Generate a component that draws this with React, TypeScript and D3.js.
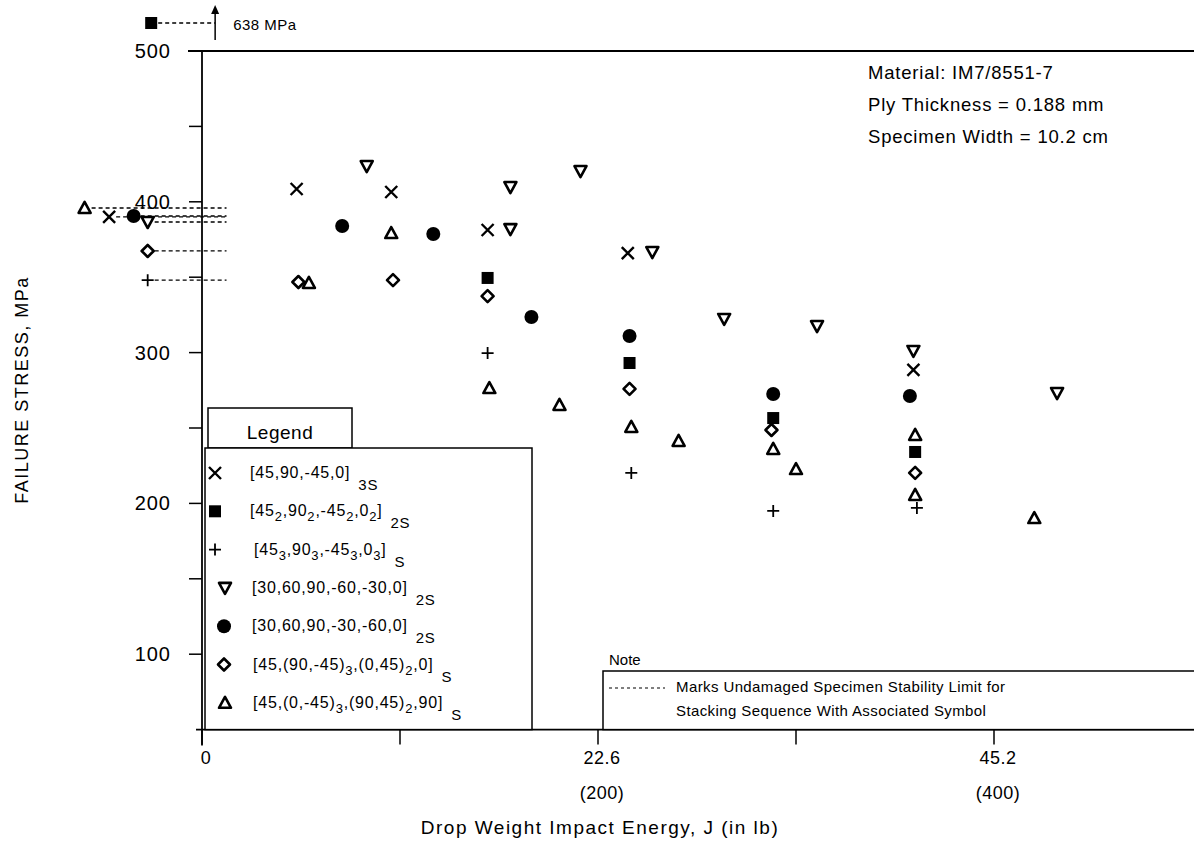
import React from "react";
import * as d3 from "d3";

// ---- data (energy in J, failure stress in MPa) ----
const crossE = [5.4, 10.8, 16.3, 24.3, 40.6];
const crossS = [408.5, 406.5, 381.3, 366, 288.5];
const squareE = [16.3, 24.4, 32.6, 40.7];
const squareS = [349.5, 293.1, 256.6, 234.1];
const plusE = [16.3, 24.5, 32.6, 40.8];
const plusS = [299.7, 220.2, 195, 197];
const triDownE = [9.4, 17.6, 17.6, 21.6, 25.7, 29.8, 35.1, 40.6, 48.8];
const triDownS = [423.7, 409.8, 381.9, 420.4, 366.7, 322.3, 317.6, 301.1, 273.2];
const circleE = [8.0, 13.2, 18.8, 24.4, 32.6, 40.4];
const circleS = [384, 378.6, 323.6, 311, 272.5, 271.2];
const diamondE = [5.5, 10.9, 16.3, 24.4, 32.5, 40.7];
const diamondS = [346.8, 348.1, 337.5, 275.9, 248.7, 220.2];
const triUpE = [6.1, 10.8, 16.4, 20.4, 24.5, 27.2, 32.6, 33.9, 40.7, 40.7, 47.5];
const triUpS = [346.2, 379.3, 276.5, 265.3, 250.7, 241.4, 236.1, 222.8, 245.4, 205.6, 190.3];

// undamaged specimen stability limits (MPa) and where the symbol sits (J, left of axis)
const limitSymbols = ["triUp", "cross", "circle", "triDown", "diamond", "plus"];
const limitStress = [395.9, 390, 390.6, 386.6, 367.4, 348];
const limitE = [-6.7, -5.3, -3.9, -3.1, -3.1, -3.1];
const squareLimitLabel = "638 MPa";

const yTickValues = [100, 200, 300, 400, 500];
const yMinorTicks = [150, 250, 350, 450];
const xTickValues = [0, 11.3, 22.6, 33.9, 45.2];
const xTickLabels: Record<string, [string, string]> = {
  "0": ["0", ""],
  "22.6": ["22.6", "(200)"],
  "45.2": ["45.2", "(400)"],
};

type Seg = [string, boolean];
const legendSymbols = ["cross", "square", "plus", "triDown", "circle", "diamond", "triUp"];
const legendLabels: { main: Seg[]; suffix: string }[] = [
  { main: [["[45,90,-45,0]", false]], suffix: "3S" },
  { main: [["[45", false], ["2", true], [",90", false], ["2", true], [",-45", false], ["2", true], [",0", false], ["2", true], ["]", false]], suffix: "2S" },
  { main: [["[45", false], ["3", true], [",90", false], ["3", true], [",-45", false], ["3", true], [",0", false], ["3", true], ["]", false]], suffix: "S" },
  { main: [["[30,60,90,-60,-30,0]", false]], suffix: "2S" },
  { main: [["[30,60,90,-30,-60,0]", false]], suffix: "2S" },
  { main: [["[45,(90,-45)", false], ["3", true], [",(0,45)", false], ["2", true], [",0]", false]], suffix: "S" },
  { main: [["[45,(0,-45)", false], ["3", true], [",(90,45)", false], ["2", true], [",90]", false]], suffix: "S" },
];

const infoLines = ["Material: IM7/8551-7", "Ply Thickness = 0.188 mm", "Specimen Width = 10.2 cm"];
const noteLines = ["Marks Undamaged Specimen Stability Limit for", "Stacking Sequence With Associated Symbol"];

const FONT = "'Liberation Sans', Arial, Helvetica, sans-serif";

function Marker({ kind, x, y }: { kind: string; x: number; y: number }) {
  const s = 6;
  switch (kind) {
    case "cross":
      return (
        <path d={`M${x - s},${y - s}L${x + s},${y + s}M${x - s},${y + s}L${x + s},${y - s}`} stroke="#000" strokeWidth={2.4} fill="none" />
      );
    case "plus":
      return (
        <path d={`M${x - 6},${y}L${x + 6},${y}M${x},${y - 6}L${x},${y + 6}`} stroke="#000" strokeWidth={1.8} fill="none" />
      );
    case "square":
      return <rect x={x - 6} y={y - 6} width={12} height={12} fill="#000" />;
    case "circle":
      return <circle cx={x} cy={y} r={7} fill="#000" />;
    case "diamond":
      return (
        <path d={`M${x},${y - 6}L${x + 6},${y}L${x},${y + 6}L${x - 6},${y}Z`} stroke="#000" strokeWidth={2.6} fill="#fff" strokeLinejoin="round" />
      );
    case "triDown":
      return (
        <path d={`M${x - 6},${y - 5}L${x + 6},${y - 5}L${x},${y + 6}Z`} stroke="#000" strokeWidth={2.6} fill="#fff" strokeLinejoin="round" />
      );
    case "triUp":
      return (
        <path d={`M${x - 6},${y + 5}L${x + 6},${y + 5}L${x},${y - 6}Z`} stroke="#000" strokeWidth={2.6} fill="#fff" strokeLinejoin="round" />
      );
    default:
      return null;
  }
}

export default function App() {
  const W = 1194;
  const H = 850;
  const x = d3.scaleLinear().domain([0, 45.2]).range([202, 994]);
  const y = d3.scaleLinear().domain([50, 500]).range([729.6, 51]);
  const axisX = x(0);
  const axisY = y(50);
  const lineEnd = x(1.4);

  const series: { kind: string; E: number[]; S: number[] }[] = [
    { kind: "cross", E: crossE, S: crossS },
    { kind: "square", E: squareE, S: squareS },
    { kind: "plus", E: plusE, S: plusS },
    { kind: "triDown", E: triDownE, S: triDownS },
    { kind: "circle", E: circleE, S: circleS },
    { kind: "diamond", E: diamondE, S: diamondS },
    { kind: "triUp", E: triUpE, S: triUpS },
  ];

  // legend geometry
  const legX0 = 205, legX1 = 532, legTop = 448;
  const legRowY = d3.range(7).map((i) => 473 + i * 38.3);
  const legSymX = [215, 215, 215, 225, 224, 224, 225];
  const legTextX = [250, 250, 254, 252, 252, 253, 253];

  // note geometry
  const noteX0 = 603, noteTop = 671;

  // square limit (off scale, drawn above the frame)
  const sqX = x(-2.9);
  const sqY = 23;
  const arrowX = x(0.75);

  return (
    <svg width={W} height={H} style={{ position: "absolute", left: 0, top: 0, background: "#fff" }} fontFamily={FONT}>
      <rect x={0} y={0} width={W} height={H} fill="#fff" />
      {/* frame */}
      <line x1={axisX - 14} y1={y(500)} x2={W} y2={y(500)} stroke="#000" strokeWidth={1.8} />
      <line x1={axisX} y1={y(500)} x2={axisX} y2={axisY + 16} stroke="#000" strokeWidth={1.8} />
      <line x1={axisX - 6} y1={axisY} x2={W} y2={axisY} stroke="#000" strokeWidth={1.8} />

      {/* y ticks */}
      {yTickValues.concat(yMinorTicks).map((v) => (
        <line key={"yt" + v} x1={axisX - 13} x2={axisX} y1={y(v)} y2={y(v)} stroke="#000" strokeWidth={1.5} />
      ))}
      {yTickValues.map((v) => (
        <text key={"yl" + v} x={axisX - 31} y={y(v) + 7} fontSize={20} textAnchor="end" letterSpacing={1}>
          {v}
        </text>
      ))}

      {/* x ticks */}
      {xTickValues.map((v) => (
        <line key={"xt" + v} x1={x(v)} x2={x(v)} y1={axisY} y2={axisY + 15} stroke="#000" strokeWidth={1.5} />
      ))}
      {xTickValues.map((v) => {
        const lab = xTickLabels[String(v)];
        if (!lab) return null;
        return (
          <g key={"xl" + v}>
            <text x={x(v) + 4} y={axisY + 34} fontSize={18} textAnchor="middle" letterSpacing={0.5}>{lab[0]}</text>
            {lab[1] && <text x={x(v) + 4} y={axisY + 69} fontSize={18} textAnchor="middle" letterSpacing={0.5}>{lab[1]}</text>}
          </g>
        );
      })}

      {/* axis titles */}
      <text x={600} y={834} fontSize={19} textAnchor="middle" letterSpacing={1.5}>Drop Weight Impact Energy, J (in lb)</text>
      <text transform={`translate(28,${390}) rotate(-90)`} fontSize={18} textAnchor="middle" letterSpacing={1.5}>FAILURE STRESS, MPa</text>

      {/* info text */}
      {infoLines.map((t, i) => (
        <text key={"info" + i} x={868} y={79 + i * 32} fontSize={18.5} letterSpacing={0.8}>{t}</text>
      ))}

      {/* stability limits */}
      {limitStress.map((v, i) => (
        <line key={"lim" + i} x1={x(limitE[i]) + 7} x2={lineEnd} y1={y(v)} y2={y(v)} stroke="#000" strokeWidth={1.3} strokeDasharray="4,3" />
      ))}
      {limitStress.map((v, i) => (
        <Marker key={"limm" + i} kind={limitSymbols[i]} x={x(limitE[i])} y={y(v)} />
      ))}
      <line x1={sqX + 7} x2={arrowX} y1={sqY} y2={sqY} stroke="#000" strokeWidth={1.3} strokeDasharray="4,3" />
      <Marker kind="square" x={sqX} y={sqY} />
      <line x1={arrowX} x2={arrowX} y1={40} y2={10} stroke="#000" strokeWidth={1.5} />
      <path d={`M${arrowX - 4},${14}L${arrowX},${5}L${arrowX + 4},${14}Z`} fill="#000" />
      <text x={arrowX + 18} y={30} fontSize={15} letterSpacing={0.5}>{squareLimitLabel}</text>

      {/* data */}
      {series.map((s) =>
        s.E.map((e, i) => <Marker key={s.kind + i} kind={s.kind} x={x(e)} y={y(s.S[i])} />)
      )}

      {/* legend */}
      <rect x={208} y={408} width={144} height={40} fill="#fff" stroke="#000" strokeWidth={1.5} />
      <text x={280} y={439} fontSize={19} textAnchor="middle" letterSpacing={0.5}>Legend</text>
      <rect x={legX0} y={legTop} width={legX1 - legX0} height={axisY - legTop} fill="#fff" stroke="#000" strokeWidth={1.5} />
      {legendLabels.map((lab, i) => (
        <g key={"leg" + i}>
          <Marker kind={legendSymbols[i]} x={legSymX[i]} y={legRowY[i]} />
          <text x={legTextX[i]} y={legRowY[i] + 5} fontSize={16} letterSpacing={0.8}>
            {lab.main.map((seg, j) =>
              seg[1] ? (
                <tspan key={j} fontSize={13} dy={5}>{seg[0]}</tspan>
              ) : (
                <tspan key={j} dy={j > 0 && lab.main[j - 1][1] ? -5 : 0}>{seg[0]}</tspan>
              )
            )}
            <tspan fontSize={15} dx={8} dy={lab.main[lab.main.length - 1][1] ? 7 : 12}>{lab.suffix}</tspan>
          </text>
        </g>
      ))}

      {/* note */}
      <text x={noteX0 + 6} y={noteTop - 6} fontSize={15}>Note</text>
      <rect x={noteX0} y={noteTop} width={W - noteX0 + 2} height={axisY - noteTop} fill="#fff" stroke="#000" strokeWidth={1.5} />
      <line x1={noteX0 + 6} x2={noteX0 + 62} y1={noteTop + 17} y2={noteTop + 17} stroke="#000" strokeWidth={1.2} strokeDasharray="3,3" />
      {noteLines.map((t, i) => (
        <text key={"note" + i} x={noteX0 + 73} y={noteTop + 21 + i * 24} fontSize={15} letterSpacing={0.4}>{t}</text>
      ))}
    </svg>
  );
}
